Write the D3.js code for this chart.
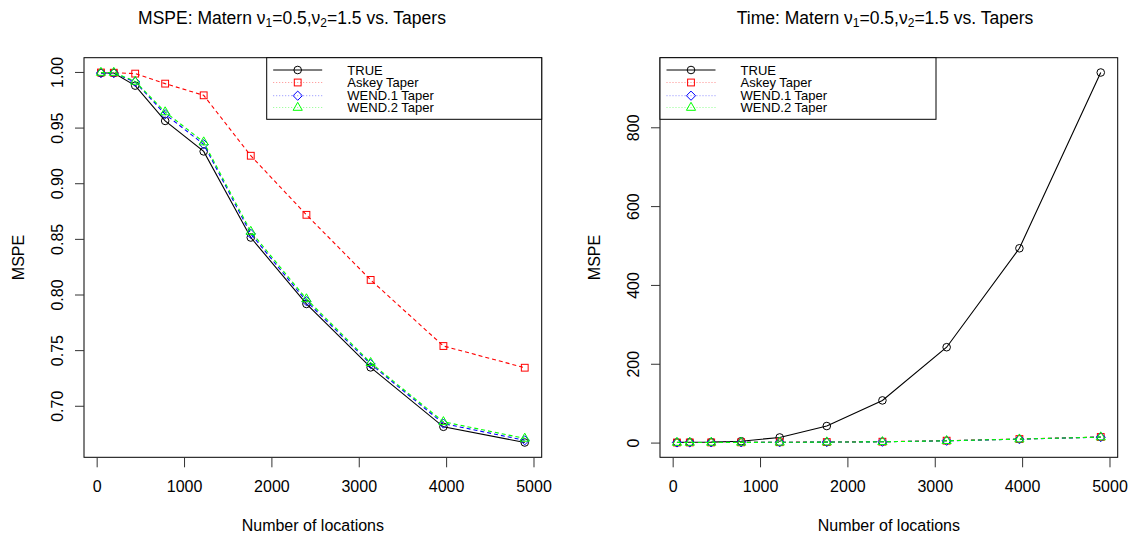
<!DOCTYPE html>
<html><head><meta charset="utf-8">
<script src="https://cdn.jsdelivr.net/npm/d3@7"></script>
<style>body{margin:0;background:#fff}svg{display:block;font-family:"Liberation Sans",Arial,sans-serif}</style>
</head><body><svg id="c" width="1132" height="538"></svg>
<script>
const locations = [49, 196, 441, 784, 1225, 1764, 2401, 3136, 3969, 4900];
const mspeTrue  = [0.999, 0.999, 0.9877, 0.956, 0.9286, 0.8512, 0.7915, 0.7345, 0.6811, 0.667];
const mspeAskey = [0.9995, 0.9993, 0.9985, 0.9895, 0.979, 0.9247, 0.8716, 0.8131, 0.7537, 0.7342];
const mspeWend1 = [0.999, 0.999, 0.991, 0.962, 0.935, 0.8545, 0.794, 0.7375, 0.684, 0.669];
const mspeWend2 = [0.9995, 0.9995, 0.9915, 0.964, 0.937, 0.8566, 0.796, 0.7387, 0.6856, 0.6707];
const timeTrue  = [0.4, 1.0, 1.2, 3.5, 13, 42, 107, 242, 493, 939];
const timeAskey = [0.2, 0.3, 0.4, 0.6, 0.9, 1.3, 2.2, 4.8, 9.0, 14.2];
const timeWend1 = [0.2, 0.3, 0.4, 0.5, 0.8, 1.2, 2.0, 4.5, 8.6, 13.8];
const timeWend2 = [0.2, 0.3, 0.4, 0.5, 0.8, 1.2, 2.0, 4.6, 8.8, 14.0];
const seriesNames = ["TRUE", "Askey Taper", "WEND.1 Taper", "WEND.2 Taper"];
const seriesColors = ["#000000", "#FF0000", "#0000FF", "#00FF00"];
const seriesShapes = ["circle", "square", "diamond", "triangle"];
const xTicks = [0, 1000, 2000, 3000, 4000, 5000];
const mspeTicks = [0.70, 0.75, 0.80, 0.85, 0.90, 0.95, 1.00];
const timeTicks = [0, 200, 400, 600, 800];

const svg = d3.select("#c");
const FS = 16;

function ext(lo, hi){ const d=(hi-lo)*0.04; return [lo-d, hi+d]; }

function symbol(g, shape, x, y, color){
  if(shape==="circle") g.append("circle").attr("cx",x).attr("cy",y).attr("r",3.8).attr("fill","none").attr("stroke",color);
  else if(shape==="square") g.append("rect").attr("x",x-3.4).attr("y",y-3.4).attr("width",6.8).attr("height",6.8).attr("fill","none").attr("stroke",color);
  else if(shape==="diamond") g.append("path").attr("d",`M${x},${y-4.6}L${x+4.6},${y}L${x},${y+4.6}L${x-4.6},${y}Z`).attr("fill","none").attr("stroke",color);
  else g.append("path").attr("d",`M${x},${y-5.2}L${x+4.6},${y+2.8}L${x-4.6},${y+2.8}Z`).attr("fill","none").attr("stroke",color);
}

function panel(opt){
  const {left, right, top, bottom, series, yTicks, yFmt, titleParts, titleX, legendX, legendW} = opt;
  const allY = series.flat();
  const x = d3.scaleLinear().domain(ext(d3.min(locations), d3.max(locations))).range([left, right]);
  const y = d3.scaleLinear().domain(ext(d3.min(allY), d3.max(allY))).range([bottom, top]);
  const g = svg.append("g");
  const dashes = [null, "4,3", "4,3", "4,3"];
  series.forEach((vals, i) => {
    const line = d3.line().x((d,j)=>x(locations[j])).y(d=>y(d));
    g.append("path").datum(vals).attr("d", line).attr("fill","none")
      .attr("stroke", seriesColors[i]).attr("stroke-width",1.1)
      .attr("stroke-dasharray", dashes[i]);
    vals.forEach((v,j)=> symbol(g, seriesShapes[i], x(locations[j]), y(v), seriesColors[i]));
  });
  g.append("rect").attr("x",left).attr("y",top).attr("width",right-left).attr("height",bottom-top)
    .attr("fill","none").attr("stroke","#000");
  const xa = g.append("g").attr("transform",`translate(0,${bottom})`)
    .call(d3.axisBottom(x).tickValues(xTicks).tickSize(10).tickFormat(d3.format("d")));
  xa.select(".domain").remove();
  xa.selectAll("line").attr("stroke","#333");
  xa.selectAll("text").attr("y",35).attr("dy",null).attr("font-size",FS).attr("font-family",null).attr("fill","#000");
  const ya = g.append("g").attr("transform",`translate(${left},0)`)
    .call(d3.axisLeft(y).tickValues(yTicks).tickSize(9).tickFormat(yFmt));
  ya.select(".domain").remove();
  ya.selectAll("line").attr("stroke","#333");
  ya.selectAll("text").attr("x",null).attr("dy",null).attr("text-anchor","middle")
    .attr("transform","translate(-21.5,0) rotate(-90)").attr("font-size",FS).attr("font-family",null).attr("fill","#000");
  ya.attr("text-anchor",null);
  g.append("text").attr("x",(left+right)/2).attr("y",531).attr("text-anchor","middle").attr("font-size",FS).text("Number of locations");
  g.append("text").attr("transform",`translate(${left-60},${(top+bottom)/2}) rotate(-90)`).attr("text-anchor","middle").attr("font-size",FS).text("MSPE");
  const t = g.append("text").attr("x",titleX).attr("y",24).attr("text-anchor","middle").attr("font-size",17.5);
  titleParts.forEach(p => {
    const ts = t.append("tspan").text(p.t);
    if(p.sub){ ts.attr("font-size",12).attr("dy",3); }
    else if(p.after) ts.attr("dy",-3);
  });
  const lg = g.append("g");
  const lh = 119.3 - top;
  lg.append("rect").attr("x",legendX).attr("y",top).attr("width",legendW).attr("height",lh).attr("fill","#fff").attr("stroke","#000");
  const rows = [70, 82.5, 95.7, 107.5];
  seriesNames.forEach((nm,i)=>{
    const ry = rows[i];
    lg.append("line").attr("x1",legendX+6.5).attr("x2",legendX+55.5).attr("y1",ry).attr("y2",ry)
      .attr("stroke",seriesColors[i]).attr("stroke-width",1)
      .attr("stroke-dasharray", i===0?null:"1,2").attr("stroke-opacity", i===0?1:0.45);
    symbol(lg, seriesShapes[i], legendX+31, ry, seriesColors[i]);
    lg.append("text").attr("x",legendX+80.6).attr("y",ry+4.5).attr("font-size",13).text(nm);
  });
}

const nu = "\u03BD";
panel({left:84, right:541.7, top:57.7, bottom:457.3,
  series:[mspeTrue, mspeAskey, mspeWend1, mspeWend2], yTicks:mspeTicks, yFmt:d3.format(".2f"),
  titleParts:[{t:"MSPE: Matern "+nu},{t:"1",sub:true},{t:"=0.5,"+nu,after:true},{t:"2",sub:true},{t:"=1.5 vs. Tapers",after:true}],
  titleX:292, legendX:266.7, legendW:275});
panel({left:660, right:1117.7, top:57.7, bottom:457.3,
  series:[timeTrue, timeAskey, timeWend1, timeWend2], yTicks:timeTicks, yFmt:d3.format("d"),
  titleParts:[{t:"Time: Matern "+nu},{t:"1",sub:true},{t:"=0.5,"+nu,after:true},{t:"2",sub:true},{t:"=1.5 vs. Tapers",after:true}],
  titleX:885, legendX:660, legendW:276});
</script></body></html>
